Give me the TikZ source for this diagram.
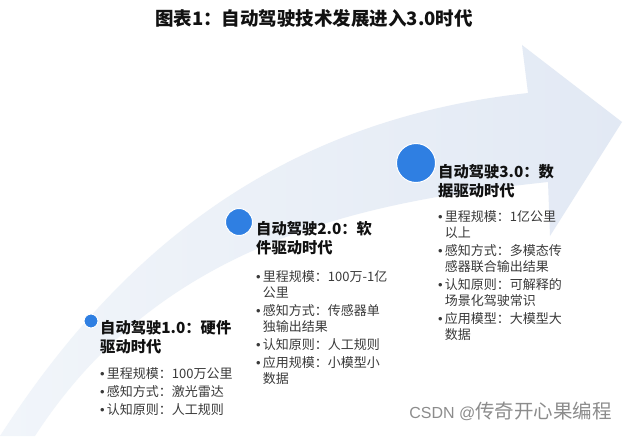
\documentclass[tikz,border=0pt]{standalone}
\usepackage{fontspec}
\usepackage{xcolor}
\usepackage{tikz}
\setmainfont{Noto Sans CJK SC}
\newfontfamily\latin{Liberation Sans}
\definecolor{bandlight}{HTML}{F1F5FA}
\definecolor{banddeep}{HTML}{E2E9F4}
\definecolor{dotblue}{HTML}{2F7FE2}
\definecolor{headink}{HTML}{111111}
\definecolor{listink}{HTML}{3A3A3A}
\definecolor{markgray}{HTML}{8C8C8C}
\newcommand{\bul}{{\latin\textbullet}\,}
\newcommand{\cont}{\hphantom{\bul}}

\begin{document}
\begin{tikzpicture}[
  x=1pt,y=-1pt,
  title/.style={font=\fontsize{18.5}{21}\selectfont\bfseries,text=headink,inner sep=0pt},
  stage/.style={circle,fill=dotblue,draw=white,line width=1pt,inner sep=0pt},
  head/.style={anchor=north west,align=left,inner sep=0pt,text=headink,font=\fontsize{15.3}{19}\selectfont\bfseries},
  items/.style={anchor=north west,align=left,inner sep=0pt,text=listink,font=\fontsize{13}{16}\selectfont},
  credit/.style={font=\fontsize{19.5}{22}\selectfont,text=markgray,inner sep=0pt}
]
\useasboundingbox (0,0) rectangle (628,436);
\fill[white] (0,0) rectangle (628,436);

% rising band
\shade[left color=bandlight,right color=banddeep]
  (0,436) .. controls (120,250) and (280,120) .. (528,93)
  -- (522,45) -- (622,122) -- (550,236) -- (548,182)
  .. controls (380,200) and (165,235) .. (35,436) -- cycle;

\node[title] (t) at (314,18) {图表1：自动驾驶技术发展进入3.0时代};

\node[stage,minimum size=14pt] (c1) at (91,321) {};
\node[stage,minimum size=27pt] (c2) at (239,222) {};
\node[stage,minimum size=39pt] (c3) at (416,163) {};

\node[head] (h1) at (100,320) {自动驾驶1.0：硬件\\驱动时代};
\node[head] (h2) at (256,221) {自动驾驶2.0：软\\件驱动时代};
\node[head] (h3) at (438,164) {自动驾驶3.0：数\\据驱动时代};

\node[items] (l1) at (100,367.5) {\bul 里程规模：100万公里\\[2pt]
  \bul 感知方式：激光雷达\\[2pt]
  \bul 认知原则：人工规则};
\node[items] (l2) at (256,270.5) {\bul 里程规模：100万-1亿\\\cont 公里\\[2pt]
  \bul 感知方式：传感器单\\\cont 独输出结果\\[2pt]
  \bul 认知原则：人工规则\\[2pt]
  \bul 应用规模：小模型小\\\cont 数据};
\node[items] (l3) at (438,210) {\bul 里程规模：1亿公里\\\cont 以上\\[2pt]
  \bul 感知方式：多模态传\\\cont 感器联合输出结果\\[2pt]
  \bul 认知原则：可解释的\\\cont 场景化驾驶常识\\[2pt]
  \bul 应用模型：大模型大\\\cont 数据};

\node[credit,anchor=east] (w) at (612,411) {{\latin\fontsize{16}{18}\selectfont CSDN @}传奇开心果编程};
\end{tikzpicture}
\end{document}
